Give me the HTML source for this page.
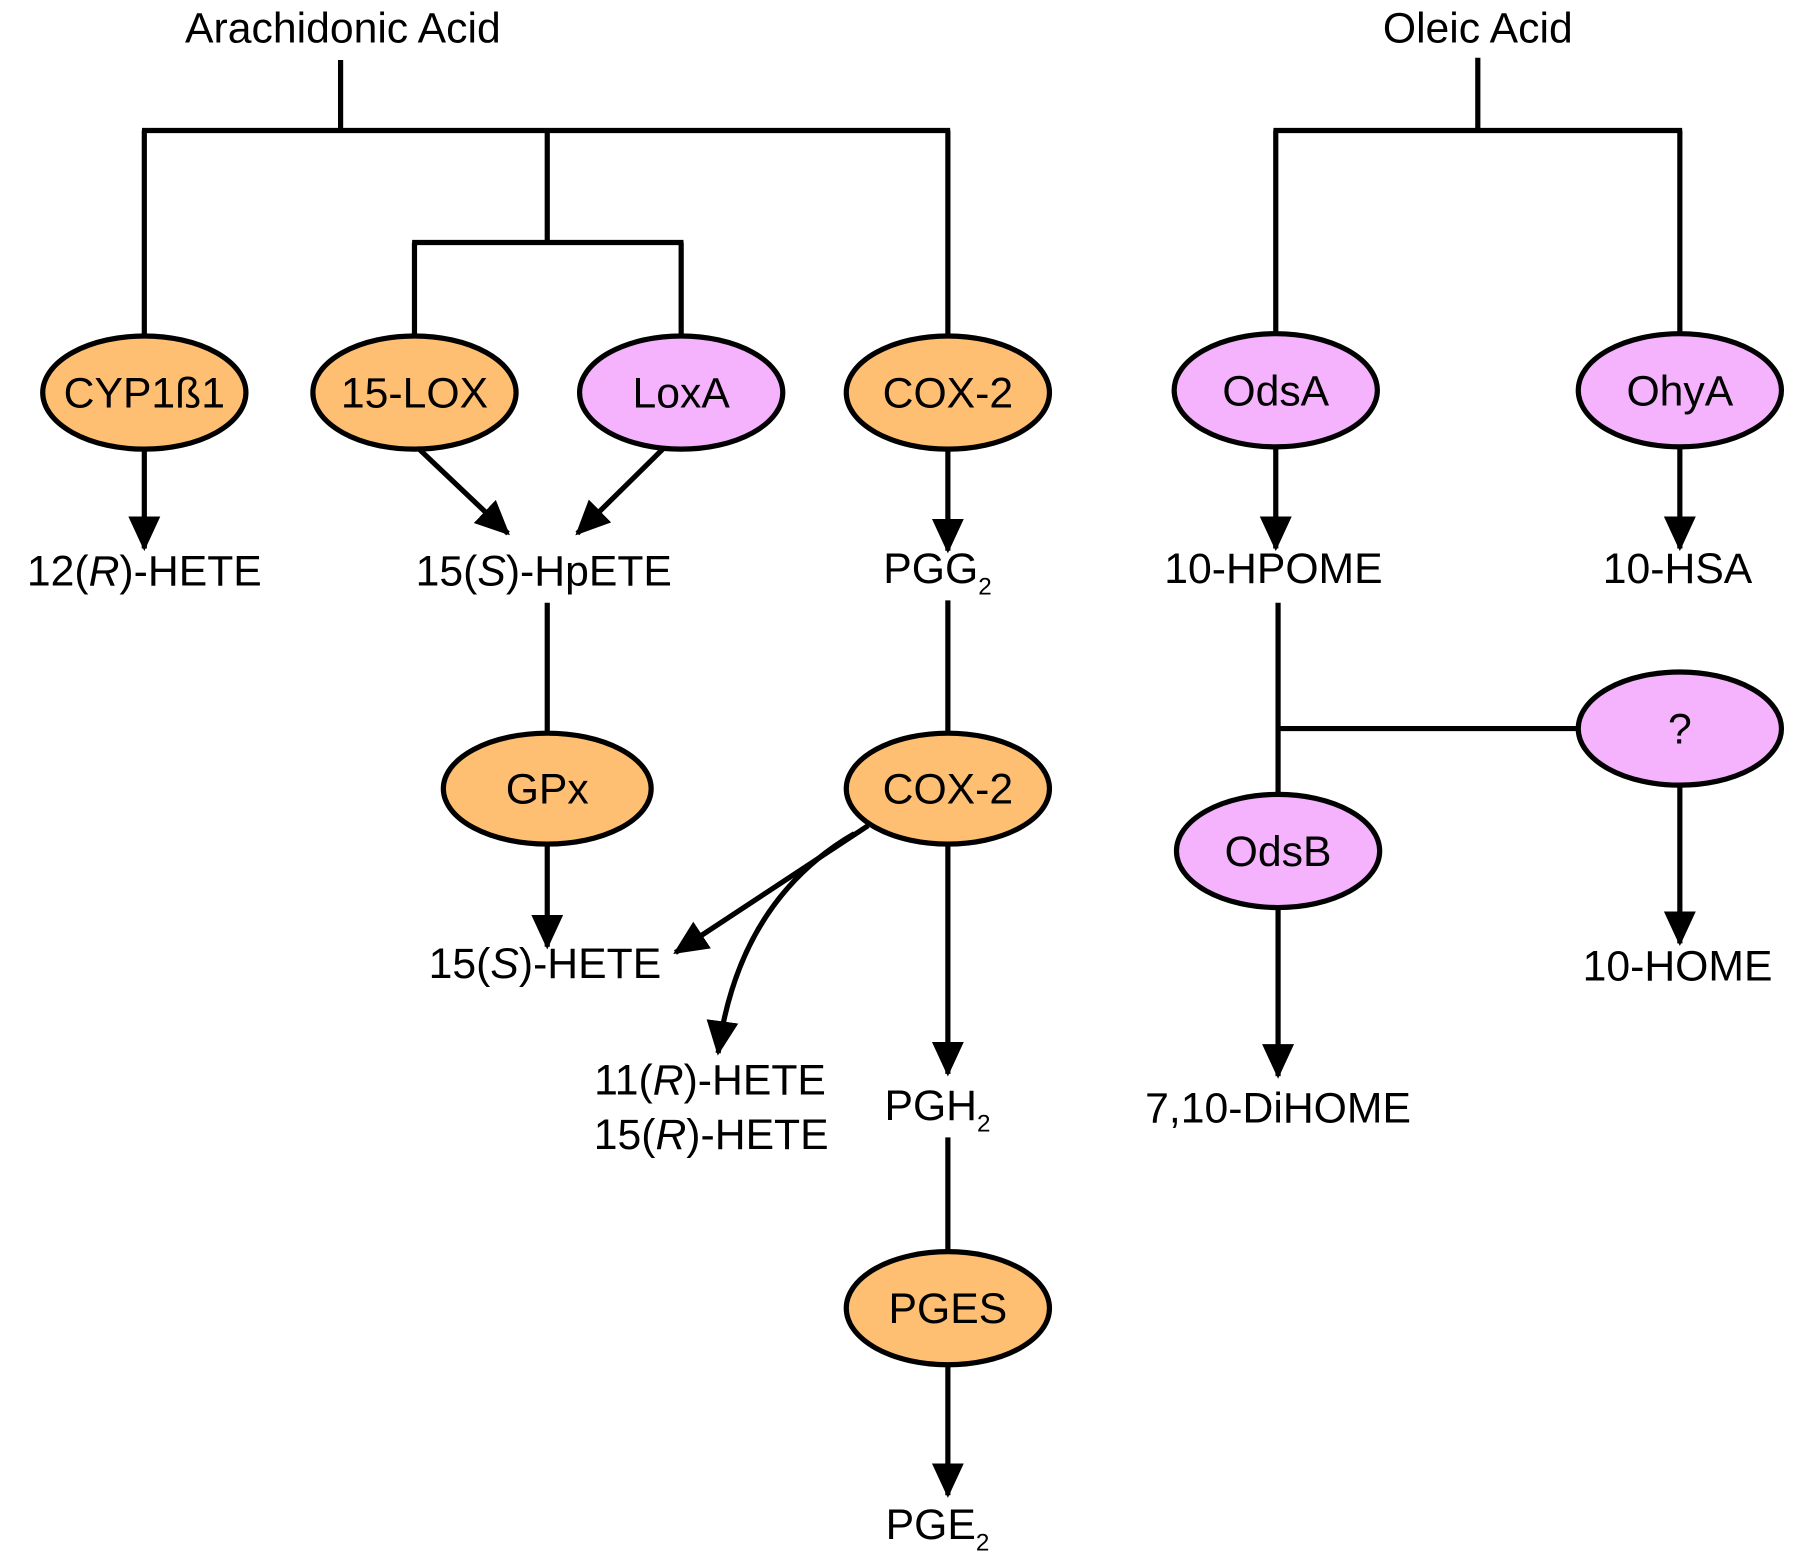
<!DOCTYPE html>
<html><head><meta charset="utf-8"><style>
html,body{margin:0;padding:0;background:#fff;}
svg{display:block;}
text{font-family:"Liberation Sans",Arial,sans-serif;font-size:37px;fill:#000;text-anchor:middle;}
.o{fill:#FFBF73;stroke:#000;stroke-width:4.5;}
.p{fill:#F4B3FC;stroke:#000;stroke-width:4.5;}
.l{stroke:#000;stroke-width:4.5;fill:none;}
</style></head><body>
<svg width="1808" height="1568" viewBox="0 0 1566 1358" preserveAspectRatio="none" xmlns="http://www.w3.org/2000/svg">
<defs>
<marker id="a" markerUnits="userSpaceOnUse" markerWidth="30" markerHeight="30" viewBox="0 0 26 24" refX="24" refY="12" orient="auto">
<path d="M0,0 L26,12 L0,24 Z" fill="#000"/>
</marker>
</defs>
<text x="297" y="37">Arachidonic Acid</text>
<text x="1280" y="37">Oleic Acid</text>
<path class="l" d="M295,52 V113 M123,113 H823 M125,113 V292 M474,113 V210 M357,210 H592 M359,210 V292 M590,210 V292 M821,113 V292"/>
<path class="l" d="M1280,50 V113 M1103,113 H1457 M1105,113 V290 M1455,113 V290"/>
<ellipse class="o" cx="125" cy="340" rx="88" ry="49"/><text x="125" y="353">CYP1ß1</text>
<ellipse class="o" cx="359" cy="340" rx="88" ry="49"/><text x="359" y="353">15-LOX</text>
<ellipse class="p" cx="590" cy="340" rx="88" ry="49"/><text x="590" y="353">LoxA</text>
<ellipse class="o" cx="821" cy="340" rx="88" ry="49"/><text x="821" y="353">COX-2</text>
<ellipse class="p" cx="1105" cy="338" rx="88" ry="49"/><text x="1105" y="351">OdsA</text>
<ellipse class="p" cx="1455" cy="338" rx="88" ry="49"/><text x="1455" y="351">OhyA</text>
<path class="l" marker-end="url(#a)" d="M125,390 V475"/>
<path class="l" marker-end="url(#a)" d="M362,388 L440,462"/>
<path class="l" marker-end="url(#a)" d="M575,388 L500,462"/>
<path class="l" marker-end="url(#a)" d="M821,390 V477"/>
<path class="l" marker-end="url(#a)" d="M1105,388 V475"/>
<path class="l" marker-end="url(#a)" d="M1455,388 V475"/>
<text x="125" y="507">12(<tspan font-style="italic">R</tspan>)-HETE</text>
<text x="471" y="507">15(<tspan font-style="italic">S</tspan>)-HpETE</text>
<text x="812" y="505">PGG<tspan font-size="21" dy="10">2</tspan></text>
<text x="1103" y="505">10-HPOME</text>
<text x="1453" y="505">10-HSA</text>
<path class="l" d="M474,522 V635 M821,520 V635"/>
<ellipse class="o" cx="474" cy="683" rx="90" ry="48"/><text x="474" y="696">GPx</text>
<ellipse class="o" cx="821" cy="683" rx="88" ry="48"/><text x="821" y="696">COX-2</text>
<path class="l" marker-end="url(#a)" d="M474,731 V820"/>
<text x="472" y="847">15(<tspan font-style="italic">S</tspan>)-HETE</text>
<path class="l" marker-end="url(#a)" d="M752,715 L585,825"/>
<path class="l" marker-end="url(#a)" d="M740,722 Q640,780 622,912"/>
<path class="l" marker-end="url(#a)" d="M821,731 V930"/>
<text x="615" y="948">11(<tspan font-style="italic">R</tspan>)-HETE</text>
<text x="616" y="995">15(<tspan font-style="italic">R</tspan>)-HETE</text>
<text x="812" y="970">PGH<tspan font-size="21" dy="10">2</tspan></text>
<path class="l" d="M821,985 V1085"/>
<ellipse class="o" cx="821" cy="1133" rx="88" ry="49"/><text x="821" y="1146">PGES</text>
<path class="l" marker-end="url(#a)" d="M821,1183 V1295"/>
<text x="812" y="1333">PGE<tspan font-size="21" dy="10">2</tspan></text>
<path class="l" d="M1107,522 V690 M1107,631 H1367"/>
<ellipse class="p" cx="1455" cy="631" rx="88" ry="49"/><text x="1455" y="644">?</text>
<ellipse class="p" cx="1107" cy="737" rx="88" ry="49"/><text x="1107" y="750">OdsB</text>
<path class="l" marker-end="url(#a)" d="M1107,787 V932"/>
<path class="l" marker-end="url(#a)" d="M1455,681 V817"/>
<text x="1107" y="972">7,10-DiHOME</text>
<text x="1453" y="849">10-HOME</text>
</svg>
</body></html>
